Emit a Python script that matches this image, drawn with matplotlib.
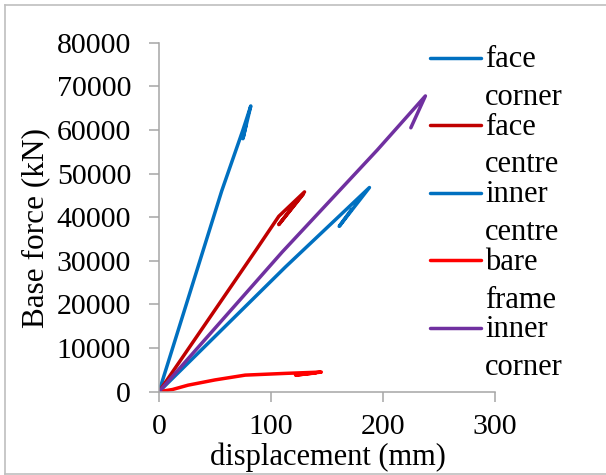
import matplotlib
matplotlib.use('Agg')
import matplotlib.pyplot as plt
from matplotlib.lines import Line2D

plt.rcParams['font.family'] = ['Liberation Serif', 'DejaVu Serif']

# Données (déplacement en mm, force en kN)
face_corner_x = [0, 56, 75, 82, 75, 78]
face_corner_y = [0, 46000, 60000, 65500, 58000, 61500]

face_centre_x = [0, 87, 107, 130, 107, 129]
face_centre_y = [0, 32600, 40200, 45800, 38300, 45300]

inner_centre_x = [0, 113, 188, 161, 172]
inner_centre_y = [0, 28600, 46800, 37900, 41800]

bare_frame_x = [0, 12, 26, 50, 77, 113, 145, 122, 140]
bare_frame_y = [0, 500, 1500, 2700, 3800, 4200, 4500, 3800, 4300]

inner_corner_x = [0, 110, 195, 238, 225]
inner_corner_y = [0, 32000, 55400, 67800, 60500]

series = [
    (face_corner_x, face_corner_y, '#0070C0', ['face', 'corner']),
    (face_centre_x, face_centre_y, '#C00000', ['face', 'centre']),
    (inner_centre_x, inner_centre_y, '#0070C0', ['inner', 'centre']),
    (bare_frame_x, bare_frame_y, '#FF0000', ['bare', 'frame']),
    (inner_corner_x, inner_corner_y, '#7030A0', ['inner', 'corner']),
]

W, H = 606, 475
fig = plt.figure(figsize=(W / 100, H / 100), dpi=100)
ax = fig.add_axes([159 / W, 1 - 391.7 / H, (494.8 - 159) / W, (391.7 - 42.7) / H])

for x, y, c, lab in series:
    ax.plot(x, y, color=c, linewidth=2.5, solid_capstyle='round', solid_joinstyle='round')

ax.set_xlim(0, 300)
ax.set_ylim(0, 80000)
ax.set_xticks([0, 100, 200, 300])
ax.set_yticks(range(0, 80001, 10000))

grey = '#A6A6A6'
for s in ['top', 'right']:
    ax.spines[s].set_visible(False)
for s in ['left', 'bottom']:
    ax.spines[s].set_color(grey)
    ax.spines[s].set_linewidth(1.1)
ax.tick_params(axis='both', colors=grey, width=1.1, length=7, labelsize=21.5, labelcolor='black')
ax.tick_params(axis='y', pad=13)
ax.tick_params(axis='x', pad=9)

# Titres des axes
fig.text(36 / W, 1 - 228 / H, 'Base force (kN)', rotation=90, fontsize=22.5,
         ha='center', va='center')
fig.text(328 / W, 1 - 457.5 / H, 'displacement (mm)', fontsize=22,
         ha='center', va='center')

# Légende dessinée à la main (trait aligné sur la première ligne)
for i, (x, y, c, lab) in enumerate(series):
    base1 = 67.3 + 67.5 * i
    yh = base1 - 9.6
    fig.add_artist(Line2D([430 / W, 481 / W], [1 - yh / H, 1 - yh / H], color=c,
                          linewidth=2.5, solid_capstyle='round'))
    fig.text(485 / W, 1 - base1 / H, lab[0], fontsize=22, va='baseline')
    fig.text(485 / W, 1 - (base1 + 37.7) / H, lab[1], fontsize=22, va='baseline')

# Cadre gris autour de l'image
border = '#BFBFBF'
fig.add_artist(Line2D([5 / W, 5 / W], [1 - 5 / H, 1 - 473.5 / H], color=border, linewidth=1.2))
fig.add_artist(Line2D([5 / W, 1], [1 - 5 / H, 1 - 5 / H], color=border, linewidth=1.2))
fig.add_artist(Line2D([5 / W, 1], [1 - 473.5 / H, 1 - 473.5 / H], color=border, linewidth=1.2))

fig.savefig('out.png', dpi=100)
